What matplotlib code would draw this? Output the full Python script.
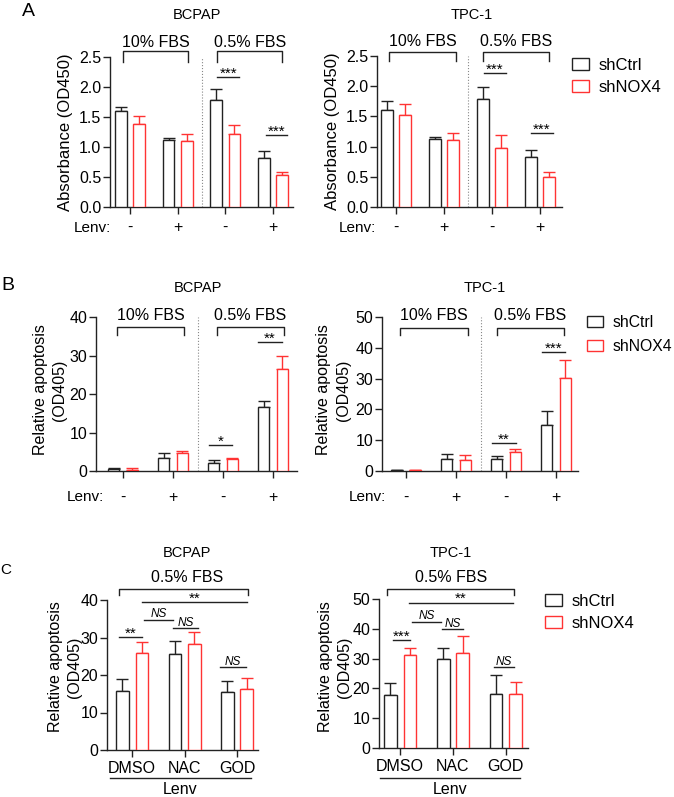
import numpy as np
import matplotlib
matplotlib.use('Agg')
import matplotlib.pyplot as plt
from matplotlib.lines import Line2D

plt.rcParams['font.family'] = ['Liberation Sans', 'DejaVu Sans']

# ---------------- data ----------------
series = ['shCtrl', 'shNOX4']
lenv_labels = ['-', '+', '-', '+']
fbs_labels = ['10% FBS', '0.5% FBS']

# Panel A: Absorbance (OD450)
A_bcpap_ctrl = [1.60, 1.11, 1.79, 0.82]
A_bcpap_ctrl_err = [0.07, 0.04, 0.18, 0.11]
A_bcpap_nox4 = [1.39, 1.10, 1.21, 0.54]
A_bcpap_nox4_err = [0.13, 0.12, 0.16, 0.05]
A_tpc_ctrl = [1.60, 1.12, 1.79, 0.82]
A_tpc_ctrl_err = [0.15, 0.04, 0.19, 0.12]
A_tpc_nox4 = [1.52, 1.11, 0.98, 0.49]
A_tpc_nox4_err = [0.19, 0.12, 0.21, 0.09]

# Panel B: Relative apoptosis (OD405)
B_bcpap_ctrl = [0.4, 3.5, 2.2, 16.7]
B_bcpap_ctrl_err = [0.3, 1.1, 0.65, 1.5]
B_bcpap_nox4 = [0.3, 4.6, 3.0, 26.4]
B_bcpap_nox4_err = [0.4, 0.6, 0.5, 3.4]
B_tpc_ctrl = [0.3, 3.8, 3.8, 14.9]
B_tpc_ctrl_err = [0.1, 1.6, 1.2, 4.5]
B_tpc_nox4 = [0.3, 3.5, 6.2, 30.2]
B_tpc_nox4_err = [0.1, 1.7, 1.1, 6.0]

# Panel C: Relative apoptosis (OD405), 0.5% FBS + Lenv
C_groups = ['DMSO', 'NAC', 'GOD']
C_bcpap_ctrl = [15.8, 25.5, 15.4]
C_bcpap_ctrl_err = [3.1, 3.7, 3.1]
C_bcpap_nox4 = [25.8, 28.2, 16.4]
C_bcpap_nox4_err = [3.1, 3.2, 2.7]
C_tpc_ctrl = [17.9, 29.8, 18.2]
C_tpc_ctrl_err = [3.9, 3.9, 6.4]
C_tpc_nox4 = [31.2, 31.8, 18.2]
C_tpc_nox4_err = [2.3, 5.9, 3.8]

# ---------------- style ----------------
W, H = 674, 797
BLACK = '#222222'
RED = '#ff3333'
LW = 1.0
fig = plt.figure(figsize=(W / 100, H / 100), dpi=100)


def fx(x):
    return x / W


def fy(y):
    return 1 - y / H


def add_ax(left, top, right, bottom):
    return fig.add_axes([fx(left), fy(bottom), (right - left) / W, (bottom - top) / H])


def ftext(x, y, s, **kw):
    kw.setdefault('ha', 'center')
    kw.setdefault('va', 'center')
    fig.text(fx(x), fy(y), s, **kw)


def setup(ax, ylim, yticks, xlim, xticklabels, xpad, labelsize=11.5):
    for s in ['top', 'right']:
        ax.spines[s].set_visible(False)
    for s in ['left', 'bottom']:
        ax.spines[s].set_linewidth(LW)
        ax.spines[s].set_color(BLACK)
    ax.set_ylim(*ylim)
    ax.set_yticks(yticks)
    ax.set_xlim(*xlim)
    ax.set_xticks(np.arange(len(xticklabels)))
    ax.set_xticklabels(xticklabels)
    ax.tick_params(axis='both', direction='out', length=4.8, width=LW, color=BLACK,
                   labelsize=labelsize, labelcolor='black')
    ax.tick_params(axis='y', pad=1.5)
    ax.tick_params(axis='x', pad=xpad)


def draw_bars(ax, ctrl, cerr, nox, nerr, off, width):
    x = np.arange(len(ctrl))
    h1 = ax.bar(x - off, ctrl, width, facecolor='white', edgecolor=BLACK, lw=LW, zorder=3, label=series[0])
    ax.errorbar(x - off, ctrl, yerr=[np.zeros(len(ctrl)), cerr], fmt='none', ecolor=BLACK,
                elinewidth=LW, capsize=4.5, capthick=LW, zorder=2)
    h2 = ax.bar(x + off, nox, width, facecolor='white', edgecolor=RED, lw=LW, zorder=3, label=series[1])
    ax.errorbar(x + off, nox, yerr=[np.zeros(len(nox)), nerr], fmt='none', ecolor=RED,
                elinewidth=LW, capsize=4.5, capthick=LW, zorder=2)
    return h1, h2


def bracket(ax, x0, x1, y, drop, text, ty, fs=11.5):
    ax.plot([x0, x0, x1, x1], [y - drop, y, y, y - drop], color=BLACK, lw=LW, clip_on=False)
    if text:
        ax.text((x0 + x1) / 2, ty, text, ha='center', va='center', fontsize=fs)


def sig(ax, x0, x1, y, text, ns=False):
    ax.plot([x0, x1], [y, y], color=BLACK, lw=LW, clip_on=False)
    if ns:
        ax.annotate(text, ((x0 + x1) / 2, y), xytext=(0, 1.8), textcoords='offset points',
                    ha='center', va='baseline', fontsize=8.5, style='italic')
    else:
        ax.annotate(text, ((x0 + x1) / 2, y), xytext=(0, -0.5), textcoords='offset points',
                    ha='center', va='baseline', fontsize=11)


def legend(ax, handles, left, top, spacing, fs=12):
    ax.legend(handles, series, loc='upper left', bbox_to_anchor=(fx(left), fy(top)),
              bbox_transform=fig.transFigure, frameon=False, fontsize=fs,
              handlelength=1.0, handleheight=0.7, handletextpad=0.6,
              labelspacing=spacing, borderpad=0, borderaxespad=0)


# ---------------- Panel A ----------------
ftext(28, 11, 'A', fontsize=14)
axA1 = add_ax(110, 57, 293, 207)
setup(axA1, (0, 2.5), np.arange(0, 2.51, 0.5), (-0.42, 3.42), lenv_labels, 4.5)
draw_bars(axA1, A_bcpap_ctrl, A_bcpap_ctrl_err, A_bcpap_nox4, A_bcpap_nox4_err, 0.19, 0.245)
axA1.axvline(1.5, color='#888888', ls=':', lw=0.8, zorder=1)
bracket(axA1, -0.15, 1.22, 2.6, 0.18, fbs_labels[0], 2.74)
bracket(axA1, 1.83, 3.19, 2.6, 0.18, fbs_labels[1], 2.74)
sig(axA1, 1.83, 2.29, 2.17, '***')
sig(axA1, 2.85, 3.29, 1.20, '***')
axA1.set_ylabel('Absorbance (OD450)', fontsize=12, labelpad=4)
ftext(197, 15, 'BCPAP', fontsize=10.5)
ftext(92, 228, 'Lenv:', fontsize=11)

axA2 = add_ax(377, 56, 562, 207)
setup(axA2, (0, 2.5), np.arange(0, 2.51, 0.5), (-0.40, 3.46), lenv_labels, 4.5)
hA = draw_bars(axA2, A_tpc_ctrl, A_tpc_ctrl_err, A_tpc_nox4, A_tpc_nox4_err, 0.19, 0.245)
axA2.axvline(1.5, color='#888888', ls=':', lw=0.8, zorder=1)
bracket(axA2, -0.15, 1.25, 2.57, 0.15, fbs_labels[0], 2.74)
bracket(axA2, 1.81, 3.19, 2.57, 0.15, fbs_labels[1], 2.74)
sig(axA2, 1.83, 2.29, 2.22, '***')
sig(axA2, 2.81, 3.27, 1.23, '***')
axA2.set_ylabel('Absorbance (OD450)', fontsize=12, labelpad=4)
ftext(472, 15, 'TPC-1', fontsize=10.5)
ftext(357, 228, 'Lenv:', fontsize=11)
legend(axA2, hA, 572, 58, 0.42)

# ---------------- Panel B ----------------
ftext(7.5, 286, 'B', fontsize=14)
axB1 = add_ax(96, 317, 297, 471)
setup(axB1, (0, 40), np.arange(0, 41, 10), (-0.54, 3.48), lenv_labels, 9)
draw_bars(axB1, B_bcpap_ctrl, B_bcpap_ctrl_err, B_bcpap_nox4, B_bcpap_nox4_err, 0.185, 0.22)
axB1.axvline(1.5, color='#888888', ls=':', lw=0.8, zorder=1)
bracket(axB1, -0.12, 1.22, 37.3, 2.0, fbs_labels[0], 40.5)
bracket(axB1, 1.88, 3.22, 37.3, 2.0, fbs_labels[1], 40.5)
sig(axB1, 1.72, 2.18, 6.7, '*')
sig(axB1, 2.70, 3.18, 33.5, '**')
ftext(50, 390, 'Relative apoptosis\n(OD405)', fontsize=11.5, rotation=90, linespacing=1.35)
ftext(198, 288, 'BCPAP', fontsize=10.5)
ftext(85.5, 497, 'Lenv:', fontsize=11)

axB2 = add_ax(382, 317, 578, 471)
setup(axB2, (0, 50), np.arange(0, 51, 10), (-0.48, 3.44), lenv_labels, 9)
hB = draw_bars(axB2, B_tpc_ctrl, B_tpc_ctrl_err, B_tpc_nox4, B_tpc_nox4_err, 0.185, 0.22)
axB2.axvline(1.5, color='#888888', ls=':', lw=0.8, zorder=1)
bracket(axB2, -0.12, 1.24, 46.4, 2.2, fbs_labels[0], 50.6)
bracket(axB2, 1.82, 3.16, 46.4, 2.2, fbs_labels[1], 50.6)
sig(axB2, 1.72, 2.20, 9.2, '**')
sig(axB2, 2.72, 3.18, 38.5, '***')
ftext(333.5, 390, 'Relative apoptosis\n(OD405)', fontsize=11.5, rotation=90, linespacing=1.35)
ftext(485, 288, 'TPC-1', fontsize=10.5)
ftext(367.5, 497, 'Lenv:', fontsize=11)
legend(axB2, hB, 587, 315, 0.55, fs=11.3)

# ---------------- Panel C ----------------
ftext(6, 570, 'C', fontsize=11)
axC1 = add_ax(107, 600, 258, 750)
setup(axC1, (0, 40), np.arange(0, 41, 10), (-0.48, 2.40), C_groups, 3.0)
draw_bars(axC1, C_bcpap_ctrl, C_bcpap_ctrl_err, C_bcpap_nox4, C_bcpap_nox4_err, 0.185, 0.24)
bracket(axC1, -0.25, 2.21, 42.9, 1.6, '', 0)
sig(axC1, -0.25, 0.19, 30.1, '**')
sig(axC1, 0.23, 0.78, 34.7, 'NS', ns=True)
sig(axC1, 0.78, 1.26, 32.5, 'NS', ns=True)
sig(axC1, 1.68, 2.17, 22.1, 'NS', ns=True)
sig(axC1, 0.19, 2.19, 39.5, '**')
ftext(187, 578, '0.5% FBS', fontsize=11.5)
ftext(187, 553, 'BCPAP', fontsize=10.5)
ftext(65, 667, 'Relative apoptosis\n(OD405)', fontsize=11.5, rotation=90, linespacing=1.35)
fig.add_artist(Line2D([fx(110), fx(251)], [fy(778), fy(778)], color=BLACK, lw=LW))
ftext(180, 789, 'Lenv', fontsize=11.5)

axC2 = add_ax(379, 599, 528, 748)
setup(axC2, (0, 50), np.arange(0, 51, 10), (-0.40, 2.42), C_groups, 3.0)
hC = draw_bars(axC2, C_tpc_ctrl, C_tpc_ctrl_err, C_tpc_nox4, C_tpc_nox4_err, 0.185, 0.24)
bracket(axC2, -0.25, 2.15, 53.2, 1.9, '', 0)
sig(axC2, -0.13, 0.19, 36.3, '***')
sig(axC2, 0.23, 0.77, 42.4, 'NS', ns=True)
sig(axC2, 0.79, 1.19, 39.8, 'NS', ns=True)
sig(axC2, 1.77, 2.15, 27.1, 'NS', ns=True)
sig(axC2, 0.17, 2.13, 48.8, '**')
ftext(451, 578, '0.5% FBS', fontsize=11.5)
ftext(451, 553, 'TPC-1', fontsize=10.5)
ftext(335, 667, 'Relative apoptosis\n(OD405)', fontsize=11.5, rotation=90, linespacing=1.35)
fig.add_artist(Line2D([fx(380), fx(520)], [fy(778), fy(778)], color=BLACK, lw=LW))
ftext(450, 789, 'Lenv', fontsize=11.5)
legend(axC2, hC, 545, 594, 0.42)

fig.savefig('out.png', dpi=100)
